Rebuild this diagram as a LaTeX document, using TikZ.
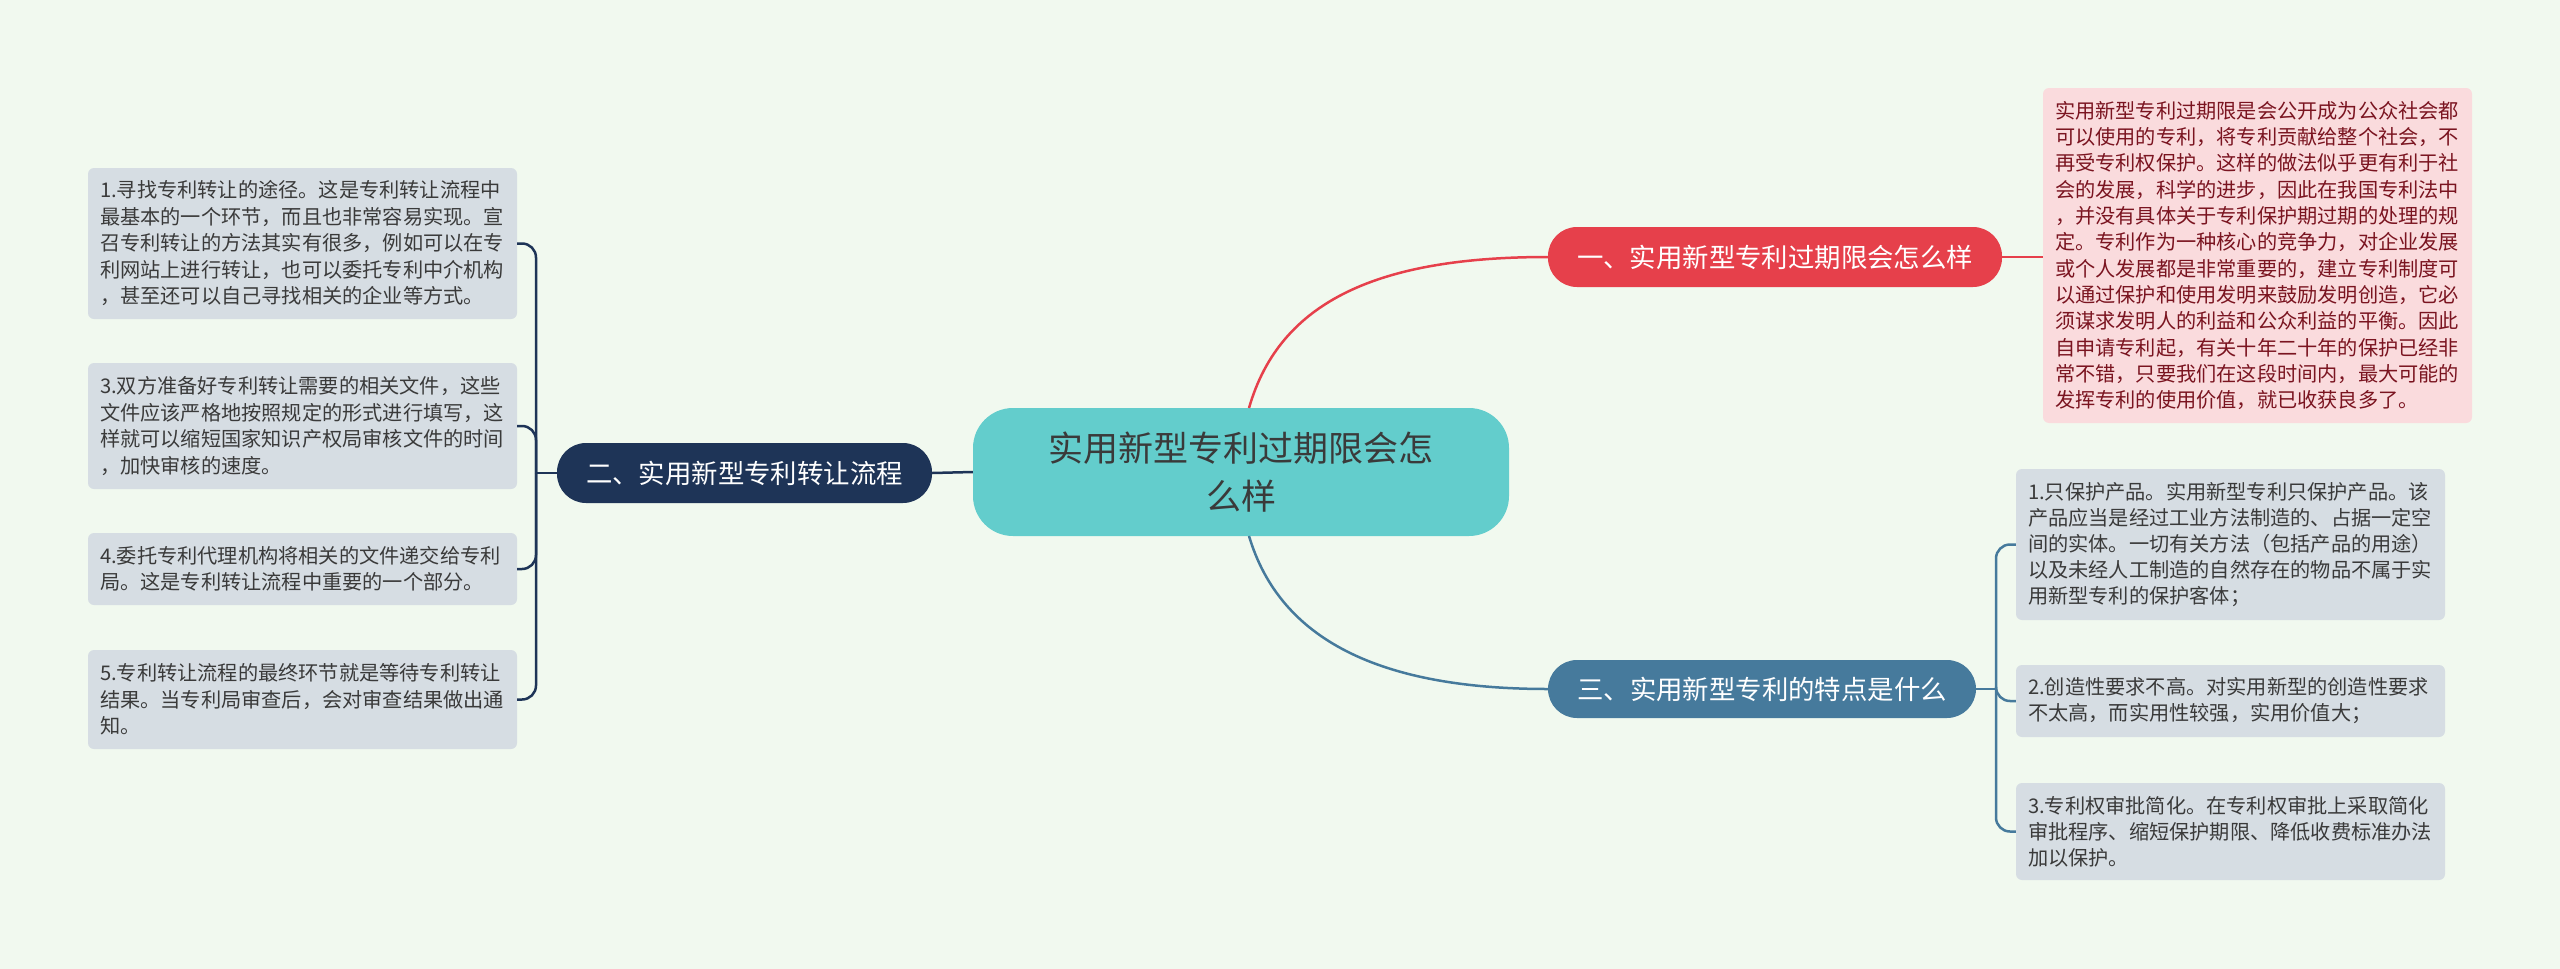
\documentclass[tikz,border=0pt]{standalone}
\usepackage{fontspec}
\setmainfont{Noto Sans CJK SC}
\begin{document}
\begin{tikzpicture}[x=1pt,y=-1pt,
 leafL/.style={draw=none,fill=leafgray,rounded corners=6pt,text=txtgray,font=\fontsize{20.2}{26.5}\selectfont,align=left,text width=405pt,inner xsep=12pt,inner ysep=0pt},
 leafR/.style={draw=none,fill=leafgray,rounded corners=6pt,text=txtgray,font=\fontsize{20.2}{26}\selectfont,align=left,text width=405pt,inner xsep=12pt,inner ysep=0pt},
 branch/.style={rounded corners=29pt,text=white,font=\fontsize{26.4}{30}\selectfont,inner sep=0pt},
 conn/.style={line width=2.5pt}]
\definecolor{bg}{HTML}{F1F9EF}
\definecolor{leafgray}{HTML}{D6DDE3}
\definecolor{txtgray}{HTML}{3A3A3A}
\definecolor{pinkbox}{HTML}{FADBDD}
\definecolor{redtxt}{HTML}{7A1420}
\definecolor{redb}{HTML}{E6404B}
\definecolor{navy}{HTML}{1E3457}
\definecolor{steel}{HTML}{467A9C}
\definecolor{teal}{HTML}{63CDCC}
\fill[bg] (0,0) rectangle (2560,969);
\useasboundingbox (0,0) rectangle (2560,969);
% center
\node[fill=teal,rounded corners=40pt,minimum width=536pt,minimum height=128pt,align=center,text=txtgray,font=\fontsize{35}{48}\selectfont] (c) at (1241,472) {实用新型专利过期限会怎\\么样};
% branches
\node[branch,fill=redb,minimum width=454pt,minimum height=60pt] (b1) at (1775,257) {一、实用新型专利过期限会怎么样};
\node[branch,fill=navy,minimum width=375pt,minimum height=60pt] (b2) at (744.5,473) {二、实用新型专利转让流程};
\node[branch,fill=steel,minimum width=428pt,minimum height=58pt] (b3) at (1762,689) {三、实用新型专利的特点是什么};
% red leaf
\node[fill=pinkbox,rounded corners=6pt,text=redtxt,font=\fontsize{20.2}{26.3}\selectfont,align=left,text width=405pt,inner xsep=12pt,minimum height=335pt] (r1) at (2257.5,255.5) {实用新型专利过期限是会公开成为公众社会都\\可以使用的专利，将专利贡献给整个社会，不\\再受专利权保护。这样的做法似乎更有利于社\\会的发展，科学的进步，因此在我国专利法中\\，并没有具体关于专利保护期过期的处理的规\\定。专利作为一种核心的竞争力，对企业发展\\或个人发展都是非常重要的，建立专利制度可\\以通过保护和使用发明来鼓励发明创造，它必\\须谋求发明人的利益和公众利益的平衡。因此\\自申请专利起，有关十年二十年的保护已经非\\常不错，只要我们在这段时间内，最大可能的\\发挥专利的使用价值，就已收获良多了。};
% left leaves
\node[leafL,minimum height=151pt] (l1) at (302.5,243.5) {1.寻找专利转让的途径。这是专利转让流程中\\最基本的一个环节，而且也非常容易实现。宣\\召专利转让的方法其实有很多，例如可以在专\\利网站上进行转让，也可以委托专利中介机构\\，甚至还可以自己寻找相关的企业等方式。};
\node[leafL,minimum height=126pt] (l3) at (302.5,426) {3.双方准备好专利转让需要的相关文件，这些\\文件应该严格地按照规定的形式进行填写，这\\样就可以缩短国家知识产权局审核文件的时间\\，加快审核的速度。};
\node[leafL,minimum height=72pt] (l4) at (302.5,569) {4.委托专利代理机构将相关的文件递交给专利\\局。这是专利转让流程中重要的一个部分。};
\node[leafL,minimum height=99pt] (l5) at (302.5,699.5) {5.专利转让流程的最终环节就是等待专利转让\\结果。当专利局审查后，会对审查结果做出通\\知。};
% right leaves
\node[leafR,minimum height=151pt] (t1) at (2230.5,544.5) {1.只保护产品。实用新型专利只保护产品。该\\产品应当是经过工业方法制造的、占据一定空\\间的实体。一切有关方法（包括产品的用途）\\以及未经人工制造的自然存在的物品不属于实\\用新型专利的保护客体；};
\node[leafR,minimum height=72pt] (t2) at (2230.5,701) {2.创造性要求不高。对实用新型的创造性要求\\不太高，而实用性较强，实用价值大；};
\node[leafR,minimum height=97pt] (t3) at (2230.5,831.5) {3.专利权审批简化。在专利权审批上采取简化\\审批程序、缩短保护期限、降低收费标准办法\\加以保护。};
% connectors
\draw[redb,conn] (1249,408) .. controls (1280,300) and (1380,257) .. (b1.west);
\draw[redb,conn] (b1.east) -- (r1.west|-b1.east);
\draw[steel,conn] (1249,536) .. controls (1280,640) and (1380,689) .. (b3.west);
\draw[navy,conn] (c.west) -- (b2.east);
\coordinate (jl) at (536,473);
\draw[navy,conn] (b2.west) -- (jl);
\foreach \n in {l1,l3,l4,l5} \draw[navy,conn,rounded corners=14pt] (jl) |- (\n.east);
\coordinate (jr) at (1996,689);
\draw[steel,conn] (b3.east) -- (jr);
\foreach \n in {t1,t2,t3} \draw[steel,conn,rounded corners=14pt] (jr) |- (\n.west);
\end{tikzpicture}
\end{document}
